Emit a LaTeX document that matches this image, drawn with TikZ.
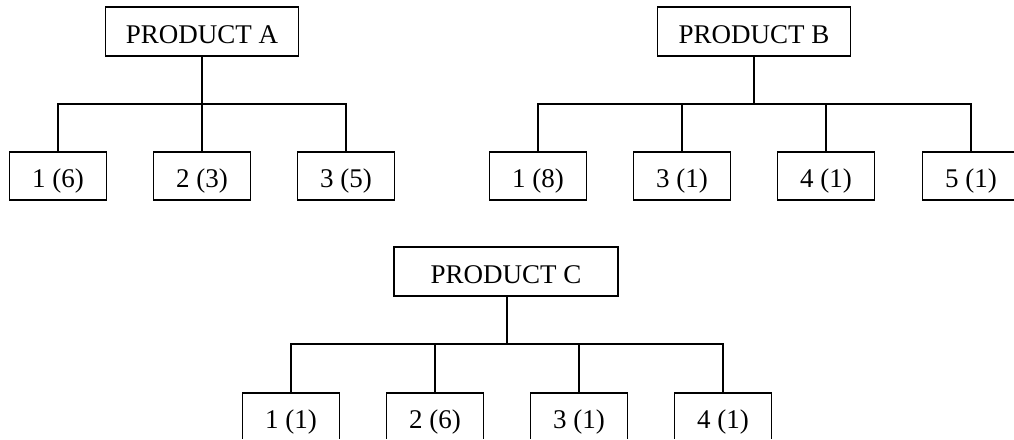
\documentclass[tikz,border=0pt]{standalone}
\usepackage{fontspec}
\setmainfont{Liberation Serif}
\begin{document}
\begin{tikzpicture}[x=1pt,y=-1pt,line width=1.5pt,
  head/.style={draw,rectangle,inner sep=0pt,minimum width=193pt,
    text height=36pt,text depth=13pt,font=\fontsize{27}{31}\selectfont},
  leaf/.style={draw,rectangle,inner sep=0pt,minimum width=97pt,
    text height=35pt,text depth=13pt,font=\fontsize{27}{31}\selectfont}]
\useasboundingbox (0,0) rectangle (1014,439);
\clip (0,0) rectangle (1014,438);

% Product A
\node[head] (A) at (202,31.5) {PRODUCT A};
\node[leaf] (a1) at (58,176) {1 (6)};
\node[leaf] (a2) at (202,176) {2 (3)};
\node[leaf] (a3) at (346,176) {3 (5)};
\coordinate (Abar) at (202,104);
\draw (A.south) -- (Abar);
\foreach \c in {a1,a2,a3} \draw (\c.north) |- (Abar);

% Product B
\node[head] (B) at (754,31.5) {PRODUCT B};
\node[leaf] (b1) at (538,176) {1 (8)};
\node[leaf] (b2) at (682,176) {3 (1)};
\node[leaf] (b3) at (826,176) {4 (1)};
\node[leaf] (b4) at (971,176) {5 (1)};
\coordinate (Bbar) at (754,104);
\draw (B.south) -- (Bbar);
\foreach \c in {b1,b2,b3} \draw (\c.north) |- (Bbar);
\draw (b4.north) |- (Bbar);

% Product C
\node[head,minimum width=224pt] (C) at (506,271.5) {PRODUCT C};
\node[leaf] (c1) at (291,417) {1 (1)};
\node[leaf] (c2) at (435,417) {2 (6)};
\node[leaf] (c3) at (579,417) {3 (1)};
\node[leaf] (c4) at (723,417) {4 (1)};
\coordinate (Cbar) at (507,344);
\draw (C.south -| Cbar) -- (Cbar);
\foreach \c in {c1,c2,c3,c4} \draw (\c.north) |- (Cbar);
\end{tikzpicture}
\end{document}
